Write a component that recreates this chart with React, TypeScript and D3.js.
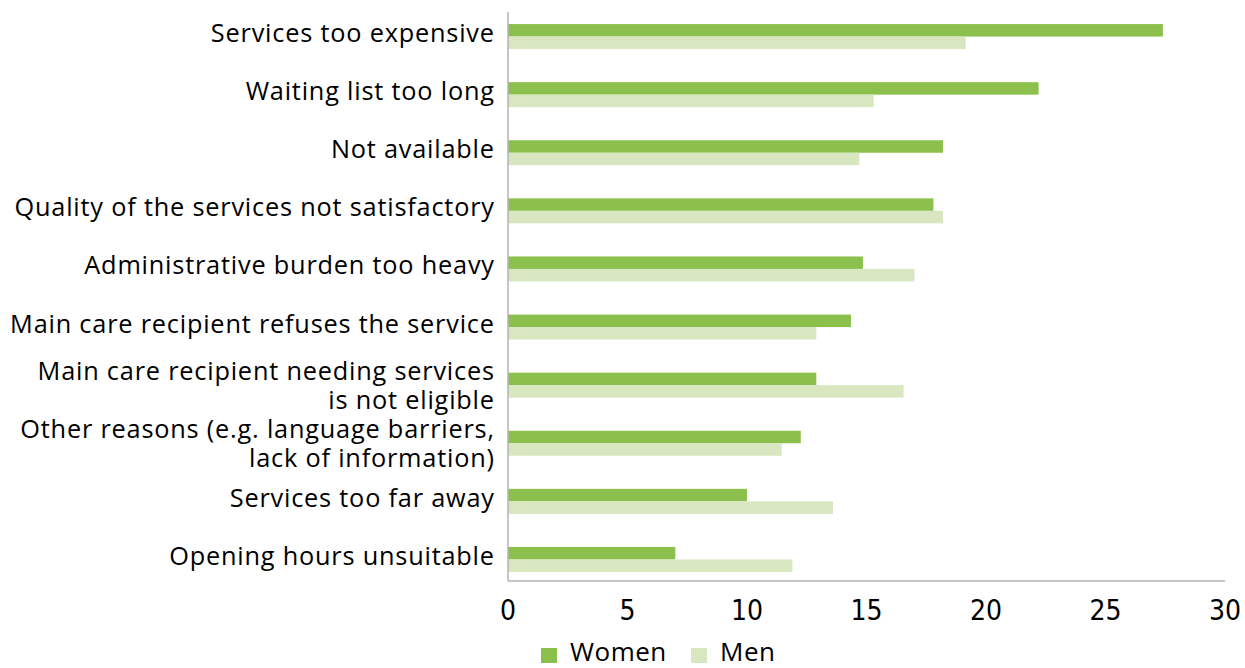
import React from "react";
import * as d3 from "d3";

const categories: string[][] = [
  ["Services too expensive"],
  ["Waiting list too long"],
  ["Not available"],
  ["Quality of the services not satisfactory"],
  ["Administrative burden too heavy"],
  ["Main care recipient refuses the service"],
  ["Main care recipient needing services", "is not eligible"],
  ["Other reasons (e.g. language barriers,", "lack of information)"],
  ["Services too far away"],
  ["Opening hours unsuitable"],
];
const women: number[] = [27.4, 22.2, 18.2, 17.8, 14.85, 14.35, 12.9, 12.25, 10.0, 7.0];
const men: number[] = [19.15, 15.3, 14.7, 18.2, 17.0, 12.9, 16.55, 11.45, 13.6, 11.9];
const xTicks: number[] = [0, 5, 10, 15, 20, 25, 30];
const seriesNames: string[] = ["Women", "Men"];
const colors: string[] = ["#8bc04c", "#d8e7c0"];

const W = 1245;
const H = 668;
const FONT = "'Open Sans', 'Noto Sans', sans-serif";
const NUMFONT = "'Liberation Sans Narrow', 'DejaVu Sans Condensed', 'Open Sans', sans-serif";

export default function App() {
  const keys = categories.map((c) => c.join(" "));
  const x = d3.scaleLinear().domain([0, 30]).range([508, 1225]);
  const y = d3
    .scaleBand<string>()
    .domain(keys)
    .range([7.5, 588.5])
    .paddingInner(0.57)
    .paddingOuter(0.285);
  const sub = d3.scaleBand<string>().domain(seriesNames).range([0, y.bandwidth()]);
  const series = [women, men];
  const axisTop = 12;
  const axisBottom = 581;
  const ls = 0.8;

  return (
    <svg
      width={W}
      height={H}
      style={{ position: "absolute", left: 0, top: 0, background: "#fff" }}
      fontFamily={FONT}
    >
      {series.map((vals, si) =>
        vals.map((v, i) => (
          <rect
            key={`${si}-${i}`}
            x={x(0)}
            y={(y(keys[i]) as number) + (sub(seriesNames[si]) as number)}
            width={x(v) - x(0)}
            height={sub.bandwidth()}
            fill={colors[si]}
          />
        ))
      )}
      <line x1={x(0)} x2={x(0)} y1={axisTop} y2={axisBottom} stroke="#b3b3b3" strokeWidth={1.5} />
      <line x1={x(0)} x2={x(30)} y1={axisBottom} y2={axisBottom} stroke="#b3b3b3" strokeWidth={1.5} />
      {xTicks.map((t) => (
        <text key={t} x={x(t)} y={620} textAnchor="middle" fontSize={28} fontFamily={NUMFONT} fill="#000">
          {t}
        </text>
      ))}
      {categories.map((lines, i) => {
        const cy = (y(keys[i]) as number) + y.bandwidth() / 2;
        const lh = 28.7;
        const n = lines.length;
        return (
          <text key={i} textAnchor="end" fontSize={25.3} letterSpacing={ls} fill="#000">
            {lines.map((l, j) => (
              <tspan
                key={j}
                x={494 + ls}
                y={cy + 5.5 + (j - (n - 1) / 2) * lh + (n > 1 ? 4 : 0)}
              >
                {l}
              </tspan>
            ))}
          </text>
        );
      })}
      <rect x={541} y={648} width={16} height={15} fill={colors[0]} />
      <text x={570} y={661} fontSize={26} letterSpacing={0.5} fill="#000">
        {seriesNames[0]}
      </text>
      <rect x={691} y={648} width={16} height={15} fill={colors[1]} />
      <text x={720} y={661} fontSize={26} letterSpacing={0.5} fill="#000">
        {seriesNames[1]}
      </text>
    </svg>
  );
}
